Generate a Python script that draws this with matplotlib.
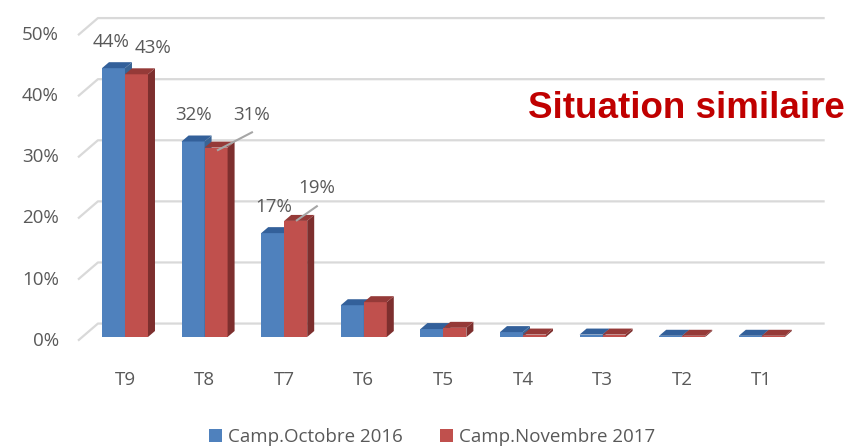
import numpy as np
import matplotlib
matplotlib.use('Agg')
import matplotlib.pyplot as plt
from matplotlib.patches import Polygon, Patch

categories = ['T9', 'T8', 'T7', 'T6', 'T5', 'T4', 'T3', 'T2', 'T1']
oct_2016 = [44.0, 32.0, 17.0, 5.2, 1.3, 0.8, 0.4, 0.2, 0.2]
nov_2017 = [43.0, 31.0, 19.0, 5.7, 1.5, 0.4, 0.4, 0.2, 0.2]
y_ticks = [0, 10, 20, 30, 40, 50]
series_names = ['Camp.Octobre 2016', 'Camp.Novembre 2017']

plt.rcParams['font.family'] = ['Open Sans', 'DejaVu Sans']
GREY = '#595959'

fig = plt.figure(figsize=(8.59, 4.48), dpi=100)
ax = fig.add_axes([0, 0, 1, 1])
ax.set_xlim(-1.570, 9.221)
ax.set_ylim(-18.17, 55.16)
ax.axis('off')

# 3d depth of bars and walls (data units)
bw = 0.289
dx, dy = 0.088, 0.98
gx0, gx1, gx2 = -0.59, -0.34, 8.79

for v in y_ticks:
    ax.plot([gx0, gx1, gx2], [v - 0.6, v + 2.2, v + 2.2], color='#d9d9d9', lw=1.6,
            solid_capstyle='butt', zorder=1)
    ax.text(-0.83, v - 0.6, f'{v}%', ha='right', va='center', fontsize=13.5, color=GREY)

def bar3d(x0, h, front, top, side):
    ax.add_patch(Polygon([(x0, 0), (x0 + bw, 0), (x0 + bw, h), (x0, h)], closed=True,
                         fc=front, ec='none', zorder=3))
    ax.add_patch(Polygon([(x0 + bw, 0), (x0 + bw + dx, dy), (x0 + bw + dx, h + dy), (x0 + bw, h)],
                         closed=True, fc=side, ec='none', zorder=3))
    ax.add_patch(Polygon([(x0, h), (x0 + bw, h), (x0 + bw + dx, h + dy), (x0 + dx, h + dy)],
                         closed=True, fc=top, ec='none', zorder=3))

for i, (a, b) in enumerate(zip(oct_2016, nov_2017)):
    bar3d(i - bw, a, '#4f81bd', '#33609a', '#3a6494')
    bar3d(i, b, '#c0504d', '#953a38', '#7d2f2e')
    ax.text(i, -7.0, categories[i], ha='center', va='center', fontsize=13.5, color=GREY)

# data labels for the three tallest groups
lab_style = dict(fontsize=13.5, color=GREY, ha='center', va='center')
lead = dict(color='#a6a6a6', lw=1.5, zorder=4)
ax.text(0 - bw * 0.6, oct_2016[0] + 4.3, f'{oct_2016[0]:.0f}%', **lab_style)
ax.text(0 + bw * 1.22, nov_2017[0] + 4.3, f'{nov_2017[0]:.0f}%', **lab_style)
ax.text(1 - bw * 0.5, oct_2016[1] + 4.3, f'{oct_2016[1]:.0f}%', **lab_style)
ax.text(1 + bw * 2.06, nov_2017[1] + 5.4, f'{nov_2017[1]:.0f}%', **lab_style)
ax.plot([1 + bw * 0.58, 1 + bw * 2.06], [nov_2017[1] - 0.4, nov_2017[1] + 2.5], **lead)
ax.text(2 - bw * 0.44, oct_2016[2] + 4.3, f'{oct_2016[2]:.0f}%', **lab_style)
ax.text(2 + bw * 1.42, nov_2017[2] + 5.4, f'{nov_2017[2]:.0f}%', **lab_style)
ax.plot([2 + bw * 0.55, 2 + bw * 1.42], [nov_2017[2] + 0.1, nov_2017[2] + 2.4], **lead)

ax.text(9.045, 37.4, 'Situation similaire', ha='right', va='center', fontsize=26.5,
        fontweight='bold', color='#c00000', family=['Liberation Sans', 'DejaVu Sans'])

handles = [Patch(fc='#4f81bd', ec='none'), Patch(fc='#c0504d', ec='none')]
fig.legend(handles, series_names, loc='center', bbox_to_anchor=(0.503, 0.025), ncol=2,
           frameon=False, fontsize=13.5, labelcolor=GREY, handlelength=0.7, handleheight=0.7,
           handletextpad=0.3, columnspacing=2.0)

fig.savefig('out.png', dpi=100)
